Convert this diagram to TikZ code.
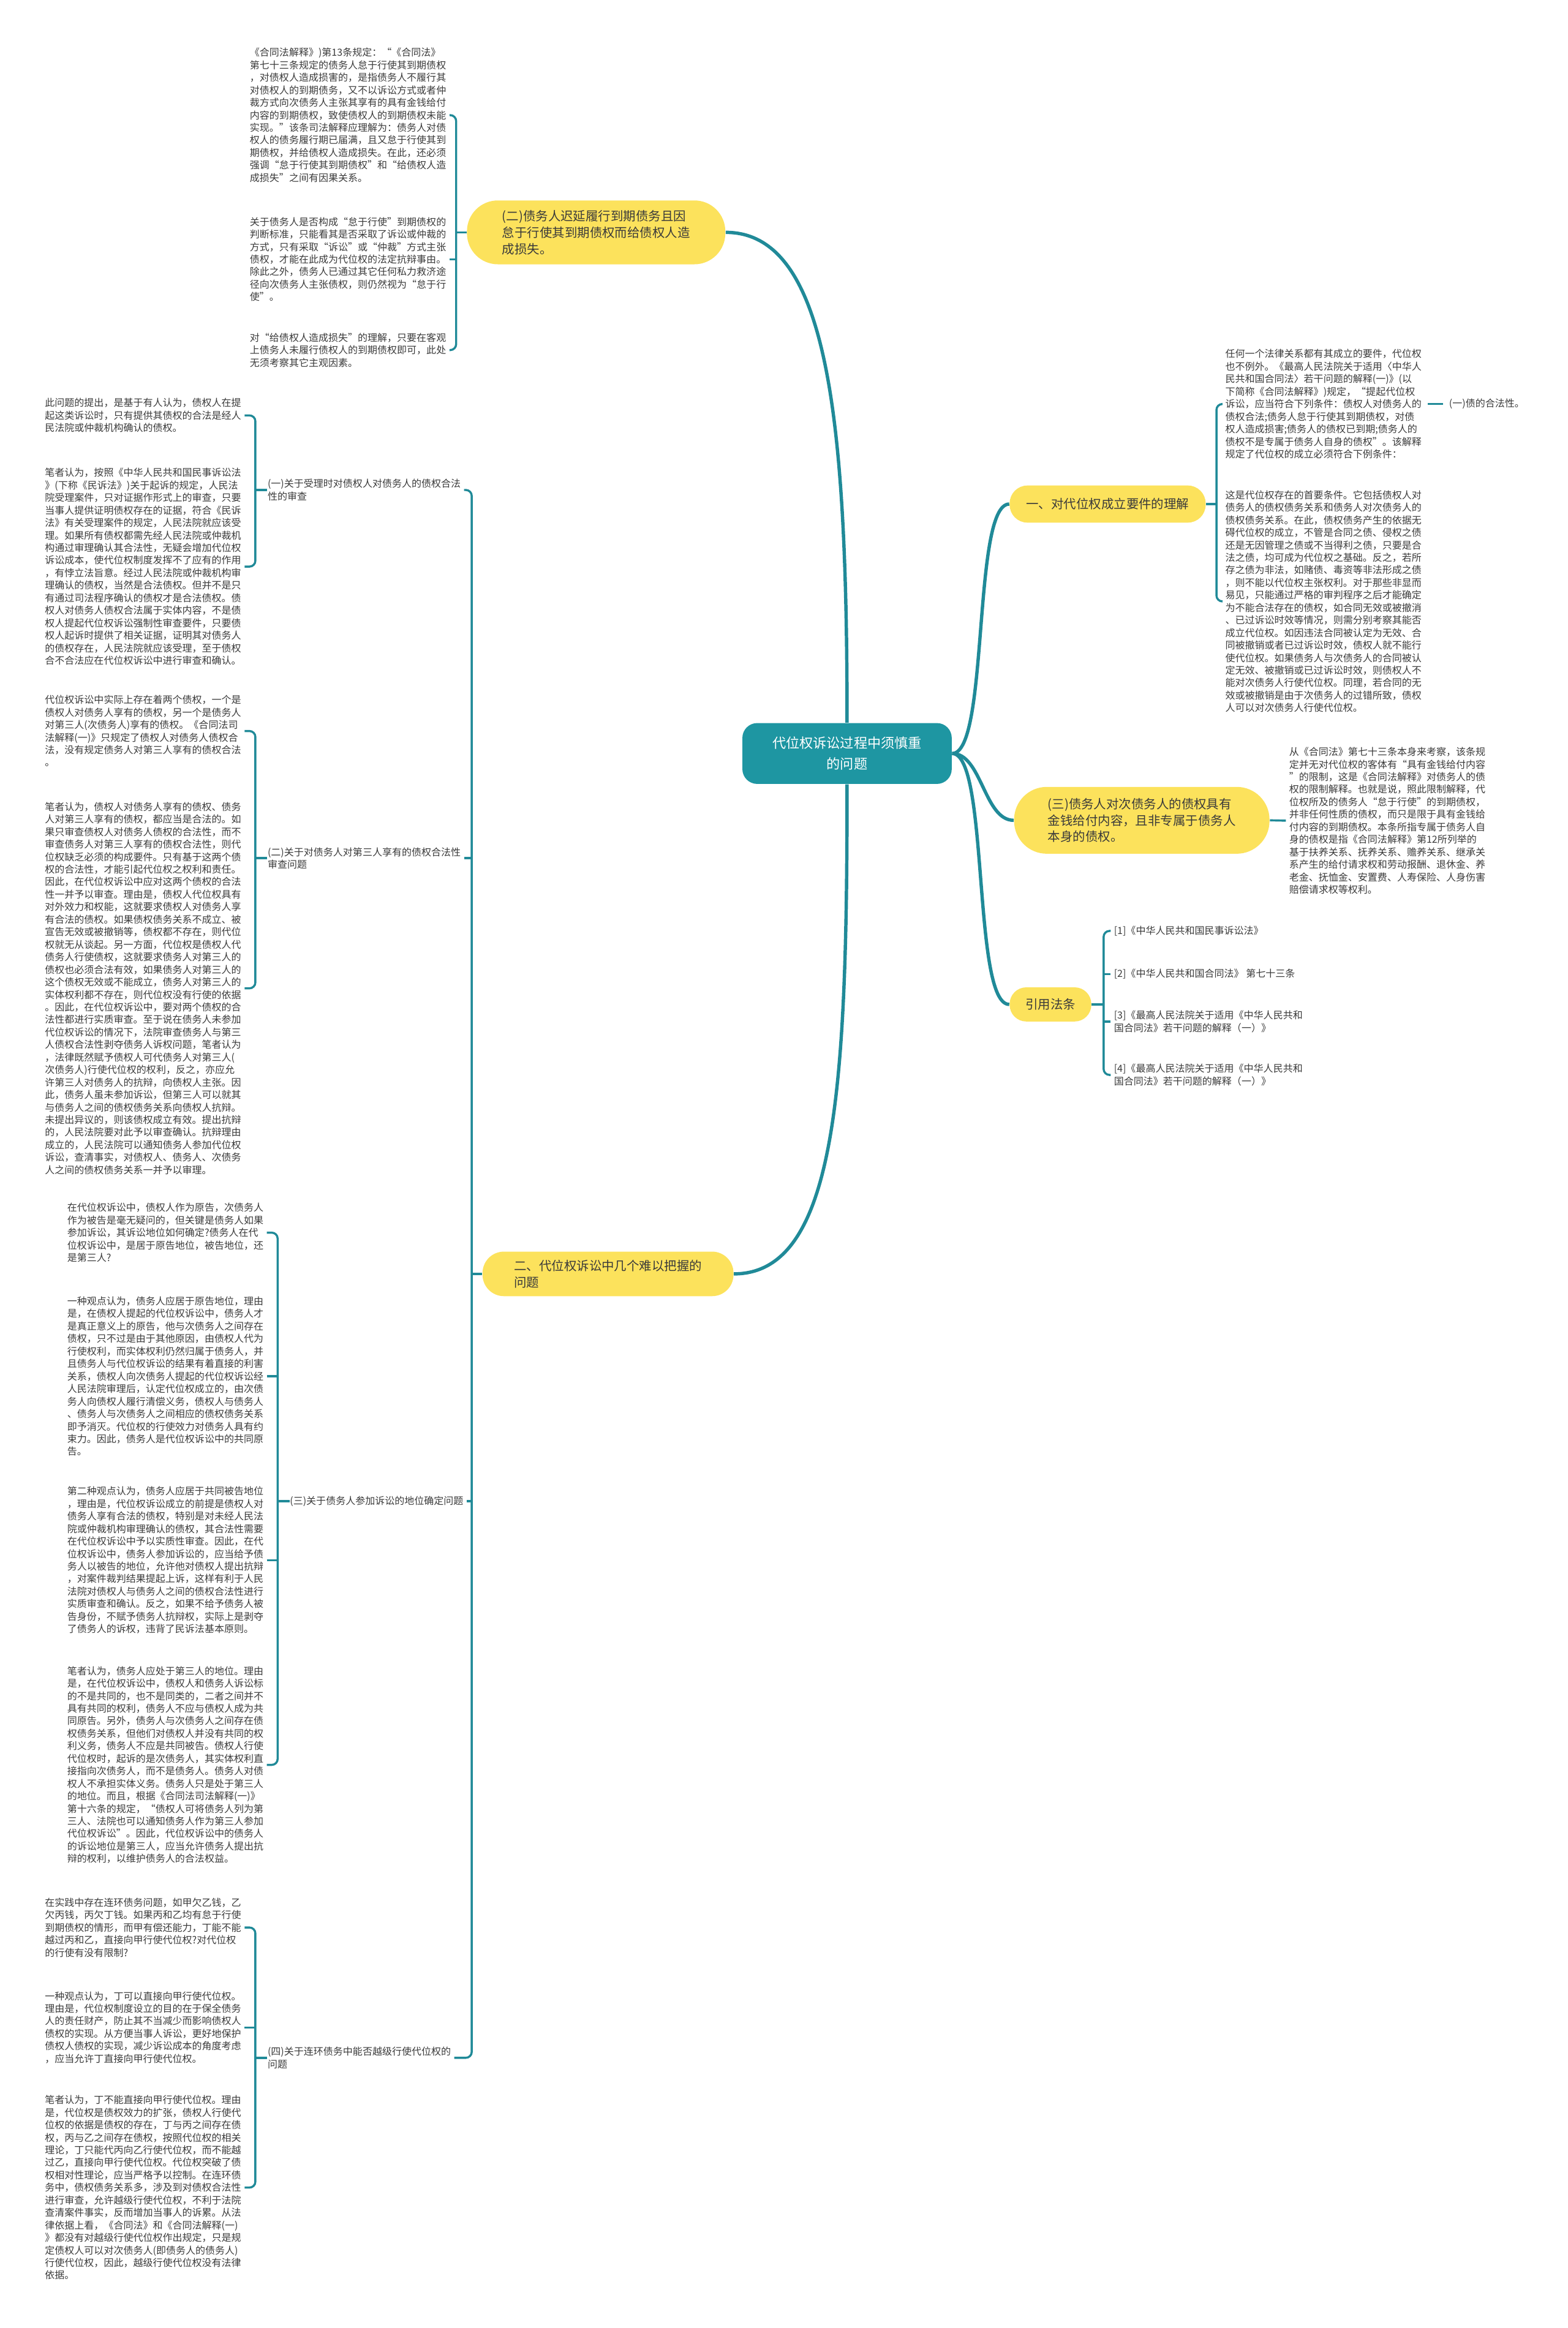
\documentclass[tikz,border=0pt]{standalone}
\usepackage{fontspec}
\setmainfont{Noto Sans CJK SC}
\usepackage{xcolor}
\usepackage{tikz}
\usetikzlibrary{positioning,calc}
\definecolor{mapline}{RGB}{32,138,152}
\definecolor{rootfill}{RGB}{30,150,162}
\definecolor{topicfill}{RGB}{252,226,92}
\definecolor{ink}{RGB}{58,58,58}

\begin{document}
\begin{tikzpicture}[
  x=0.25mm, y=-0.25mm,
  link/.style={draw=mapline, line width=1.6pt},
  bline/.style={draw=mapline, line width=1pt, rounded corners=1mm},
  root/.style={fill=rootfill, text=white, rounded corners=2.5mm, align=center,
               inner sep=0pt, font=\fontsize{6.5}{10}\selectfont},
  topic/.style={fill=topicfill, text=ink, align=left, inner sep=0pt,
                font=\fontsize{6}{7.9}\selectfont},
  leaf/.style={text=ink, align=left, inner sep=0pt, anchor=north west,
               font=\fontsize{4.7}{6}\selectfont},
  lbl/.style={text=ink, align=left, inner sep=0pt, anchor=west,
              font=\fontsize{4.7}{6}\selectfont}
]
  \useasboundingbox (0,0) rectangle (1056,1568);
  \def\xl{30} \def\xq{180} \def\xt{168} \def\xr{825}
  % root
  \node[root, minimum width=35.25mm, minimum height=10.25mm] (root) at (570.5,507.5)
    {代位权诉讼过程中须慎重\\的问题};
  % topics
  \node[topic, minimum width=43.5mm, minimum height=10.75mm, rounded corners=5.2mm] (p2) at (401.5,156.5)
    {(二)债务人迟延履行到期债务且因\\怠于行使其到期债权而给债权人造\\成损失。};
  \node[topic, minimum width=33mm, minimum height=6.25mm, rounded corners=3mm] (n1) at (746,339.5)
    {一、对代位权成立要件的理解};
  \node[topic, minimum width=43mm, minimum height=11.25mm, rounded corners=5.5mm] (n3) at (769,552.5)
    {(三)债务人对次债务人的债权具有\\金钱给付内容，且非专属于债务人\\本身的债权。};
  \node[topic, minimum width=13.75mm, minimum height=5.75mm, rounded corners=2.8mm] (nref) at (707.5,676.5)
    {引用法条};
  \node[topic, minimum width=42.25mm, minimum height=7.5mm, rounded corners=3.6mm] (n2) at (409.5,858)
    {二、代位权诉讼中几个难以把握的\\问题};

  % (二) top texts
  \node[leaf] (t1) at (\xt,32) {《合同法解释》)第13条规定：“《合同法》\\
第七十三条规定的债务人怠于行使其到期债权\\
，对债权人造成损害的，是指债务人不履行其\\
对债权人的到期债务，又不以诉讼方式或者仲\\
裁方式向次债务人主张其享有的具有金钱给付\\
内容的到期债权，致使债权人的到期债权未能\\
实现。”该条司法解释应理解为：债务人对债\\
权人的债务履行期已届满，且又怠于行使其到\\
期债权，并给债权人造成损失。在此，还必须\\
强调“怠于行使其到期债权”和“给债权人造\\
成损失”之间有因果关系。};
  \node[leaf] (t2) at (\xt,146) {关于债务人是否构成“怠于行使”到期债权的\\
判断标准，只能看其是否采取了诉讼或仲裁的\\
方式，只有采取“诉讼”或“仲裁”方式主张\\
债权，才能在此成为代位权的法定抗辩事由。\\
除此之外，债务人已通过其它任何私力救济途\\
径向次债务人主张债权，则仍然视为“怠于行\\
使”。};
  \node[leaf] (t3) at (\xt,224) {对“给债权人造成损失”的理解，只要在客观\\
上债务人未履行债权人的到期债权即可，此处\\
无须考察其它主观因素。};

  % 二、 labels
  \node[lbl] (q1) at (\xq,330) {(一)关于受理时对债权人对债务人的债权合法\\性的审查};
  \node[lbl] (q2) at (\xq,578) {(二)关于对债务人对第三人享有的债权合法性\\审查问题};
  \node[lbl] (q3) at (195,1011) {(三)关于债务人参加诉讼的地位确定问题};
  \node[lbl] (q4) at (\xq,1386) {(四)关于连环债务中能否越级行使代位权的\\问题};

  % (一)
  \node[leaf] (l1a) at (\xl,268) {此问题的提出，是基于有人认为，债权人在提\\
起这类诉讼时，只有提供其债权的合法是经人\\
民法院或仲裁机构确认的债权。};
  \node[leaf] (l1b) at (\xl,315) {笔者认为，按照《中华人民共和国民事诉讼法\\
》(下称《民诉法》)关于起诉的规定，人民法\\
院受理案件，只对证据作形式上的审查，只要\\
当事人提供证明债权存在的证据，符合《民诉\\
法》有关受理案件的规定，人民法院就应该受\\
理。如果所有债权都需先经人民法院或仲裁机\\
构通过审理确认其合法性，无疑会增加代位权\\
诉讼成本，使代位权制度发挥不了应有的作用\\
，有悖立法旨意。经过人民法院或仲裁机构审\\
理确认的债权，当然是合法债权。但并不是只\\
有通过司法程序确认的债权才是合法债权。债\\
权人对债务人债权合法属于实体内容，不是债\\
权人提起代位权诉讼强制性审查要件，只要债\\
权人起诉时提供了相关证据，证明其对债务人\\
的债权存在，人民法院就应该受理，至于债权\\
合不合法应在代位权诉讼中进行审查和确认。};

  % (二)
  \node[leaf] (l2a) at (\xl,468) {代位权诉讼中实际上存在着两个债权，一个是\\
债权人对债务人享有的债权，另一个是债务人\\
对第三人(次债务人)享有的债权。《合同法司\\
法解释(一)》只规定了债权人对债务人债权合\\
法，没有规定债务人对第三人享有的债权合法\\
。};
  \node[leaf] (l2b) at (\xl,540) {笔者认为，债权人对债务人享有的债权、债务\\
人对第三人享有的债权，都应当是合法的。如\\
果只审查债权人对债务人债权的合法性，而不\\
审查债务人对第三人享有的债权合法性，则代\\
位权缺乏必须的构成要件。只有基于这两个债\\
权的合法性，才能引起代位权之权利和责任。\\
因此，在代位权诉讼中应对这两个债权的合法\\
性一并予以审查。理由是，债权人代位权具有\\
对外效力和权能，这就要求债权人对债务人享\\
有合法的债权。如果债权债务关系不成立、被\\
宣告无效或被撤销等，债权都不存在，则代位\\
权就无从谈起。另一方面，代位权是债权人代\\
债务人行使债权，这就要求债务人对第三人的\\
债权也必须合法有效，如果债务人对第三人的\\
这个债权无效或不能成立，债务人对第三人的\\
实体权利都不存在，则代位权没有行使的依据\\
。因此，在代位权诉讼中，要对两个债权的合\\
法性都进行实质审查。至于说在债务人未参加\\
代位权诉讼的情况下，法院审查债务人与第三\\
人债权合法性剥夺债务人诉权问题，笔者认为\\
，法律既然赋予债权人可代债务人对第三人(\\
次债务人)行使代位权的权利，反之，亦应允\\
许第三人对债务人的抗辩，向债权人主张。因\\
此，债务人虽未参加诉讼，但第三人可以就其\\
与债务人之间的债权债务关系向债权人抗辩。\\
未提出异议的，则该债权成立有效。提出抗辩\\
的，人民法院要对此予以审查确认。抗辩理由\\
成立的，人民法院可以通知债务人参加代位权\\
诉讼，查清事实，对债权人、债务人、次债务\\
人之间的债权债务关系一并予以审理。};

  % (三)
  \node[leaf] (l3a) at (45,810) {在代位权诉讼中，债权人作为原告，次债务人\\
作为被告是毫无疑问的，但关键是债务人如果\\
参加诉讼，其诉讼地位如何确定?债务人在代\\
位权诉讼中，是居于原告地位，被告地位，还\\
是第三人?};
  \node[leaf] (l3b) at (45,873) {一种观点认为，债务人应居于原告地位，理由\\
是，在债权人提起的代位权诉讼中，债务人才\\
是真正意义上的原告，他与次债务人之间存在\\
债权，只不过是由于其他原因，由债权人代为\\
行使权利，而实体权利仍然归属于债务人，并\\
且债务人与代位权诉讼的结果有着直接的利害\\
关系，债权人向次债务人提起的代位权诉讼经\\
人民法院审理后，认定代位权成立的，由次债\\
务人向债权人履行清偿义务，债权人与债务人\\
、债务人与次债务人之间相应的债权债务关系\\
即予消灭。代位权的行使效力对债务人具有约\\
束力。因此，债务人是代位权诉讼中的共同原\\
告。};
  \node[leaf] (l3c) at (45,1001) {第二种观点认为，债务人应居于共同被告地位\\
，理由是，代位权诉讼成立的前提是债权人对\\
债务人享有合法的债权，特别是对未经人民法\\
院或仲裁机构审理确认的债权，其合法性需要\\
在代位权诉讼中予以实质性审查。因此，在代\\
位权诉讼中，债务人参加诉讼的，应当给予债\\
务人以被告的地位，允许他对债权人提出抗辩\\
，对案件裁判结果提起上诉，这样有利于人民\\
法院对债权人与债务人之间的债权合法性进行\\
实质审查和确认。反之，如果不给予债务人被\\
告身份，不赋予债务人抗辩权，实际上是剥夺\\
了债务人的诉权，违背了民诉法基本原则。};
  \node[leaf] (l3d) at (45,1122) {笔者认为，债务人应处于第三人的地位。理由\\
是，在代位权诉讼中，债权人和债务人诉讼标\\
的不是共同的，也不是同类的，二者之间并不\\
具有共同的权利，债务人不应与债权人成为共\\
同原告。另外，债务人与次债务人之间存在债\\
权债务关系，但他们对债权人并没有共同的权\\
利义务，债务人不应是共同被告。债权人行使\\
代位权时，起诉的是次债务人，其实体权利直\\
接指向次债务人，而不是债务人。债务人对债\\
权人不承担实体义务。债务人只是处于第三人\\
的地位。而且，根据《合同法司法解释(一)》\\
第十六条的规定，“债权人可将债务人列为第\\
三人、法院也可以通知债务人作为第三人参加\\
代位权诉讼”。因此，代位权诉讼中的债务人\\
的诉讼地位是第三人，应当允许债务人提出抗\\
辩的权利，以维护债务人的合法权益。};

  % (四)
  \node[leaf] (l4a) at (\xl,1278) {在实践中存在连环债务问题，如甲欠乙钱，乙\\
欠丙钱，丙欠丁钱。如果丙和乙均有怠于行使\\
到期债权的情形，而甲有偿还能力，丁能不能\\
越过丙和乙，直接向甲行使代位权?对代位权\\
的行使有没有限制?};
  \node[leaf] (l4b) at (\xl,1341) {一种观点认为，丁可以直接向甲行使代位权。\\
理由是，代位权制度设立的目的在于保全债务\\
人的责任财产，防止其不当减少而影响债权人\\
债权的实现。从方便当事人诉讼，更好地保护\\
债权人债权的实现，减少诉讼成本的角度考虑\\
，应当允许丁直接向甲行使代位权。};
  \node[leaf] (l4c) at (\xl,1411) {笔者认为，丁不能直接向甲行使代位权。理由\\
是，代位权是债权效力的扩张，债权人行使代\\
位权的依据是债权的存在，丁与丙之间存在债\\
权，丙与乙之间存在债权，按照代位权的相关\\
理论，丁只能代丙向乙行使代位权，而不能越\\
过乙，直接向甲行使代位权。代位权突破了债\\
权相对性理论，应当严格予以控制。在连环债\\
务中，债权债务关系多，涉及到对债权合法性\\
进行审查，允许越级行使代位权，不利于法院\\
查清案件事实，反而增加当事人的诉累。从法\\
律依据上看，《合同法》和《合同法解释(一)\\
》都没有对越级行使代位权作出规定，只是规\\
定债权人可以对次债务人(即债务人的债务人)\\
行使代位权，因此，越级行使代位权没有法律\\
依据。};

  % 一、 texts
  \node[leaf] (ra) at (\xr,235) {任何一个法律关系都有其成立的要件，代位权\\
也不例外。《最高人民法院关于适用〈中华人\\
民共和国合同法〉若干问题的解释(一)》(以\\
下简称《合同法解释》)规定，“提起代位权\\
诉讼，应当符合下列条件：债权人对债务人的\\
债权合法;债务人怠于行使其到期债权，对债\\
权人造成损害;债务人的债权已到期;债务人的\\
债权不是专属于债务人自身的债权”。该解释\\
规定了代位权的成立必须符合下例条件：};
  \node[lbl, right=4.5mm of ra] (leg) {(一)债的合法性。};
  \node[leaf] (rb) at (\xr,330) {这是代位权存在的首要条件。它包括债权人对\\
债务人的债权债务关系和债务人对次债务人的\\
债权债务关系。在此，债权债务产生的依据无\\
碍代位权的成立，不管是合同之债、侵权之债\\
还是无因管理之债或不当得利之债，只要是合\\
法之债，均可成为代位权之基础。反之，若所\\
存之债为非法，如赌债、毒资等非法形成之债\\
，则不能以代位权主张权利。对于那些非显而\\
易见，只能通过严格的审判程序之后才能确定\\
为不能合法存在的债权，如合同无效或被撤消\\
、已过诉讼时效等情况，则需分别考察其能否\\
成立代位权。如因违法合同被认定为无效、合\\
同被撤销或者已过诉讼时效，债权人就不能行\\
使代位权。如果债务人与次债务人的合同被认\\
定无效、被撤销或已过诉讼时效，则债权人不\\
能对次债务人行使代位权。同理，若合同的无\\
效或被撤销是由于次债务人的过错所致，债权\\
人可以对次债务人行使代位权。};

  % (三) right text
  \node[leaf] (rc) at (868,503) {从《合同法》第七十三条本身来考察，该条规\\
定并无对代位权的客体有“具有金钱给付内容\\
”的限制，这是《合同法解释》对债务人的债\\
权的限制解释。也就是说，照此限制解释，代\\
位权所及的债务人“怠于行使”的到期债权，\\
并非任何性质的债权，而只是限于具有金钱给\\
付内容的到期债权。本条所指专属于债务人自\\
身的债权是指《合同法解释》第12所列举的\\
基于扶养关系、抚养关系、赡养关系、继承关\\
系产生的给付请求权和劳动报酬、退休金、养\\
老金、抚恤金、安置费、人寿保险、人身伤害\\
赔偿请求权等权利。};

  % references
  \node[lbl] (ref1) at (750,627) {[1]《中华人民共和国民事诉讼法》};
  \node[lbl] (ref2) at (750,656) {[2]《中华人民共和国合同法》 第七十三条};
  \node[lbl] (ref3) at (750,688) {[3]《最高人民法院关于适用《中华人民共和\\国合同法》若干问题的解释（一）》};
  \node[lbl] (ref4) at (750,724) {[4]《最高人民法院关于适用《中华人民共和\\国合同法》若干问题的解释（一）》};

  % root links
  \draw[link] (root.east) .. controls +(25,0) and +(-25,0) .. (n1.west);
  \draw[link] (root.east) .. controls +(20,0) and +(-20,0) .. (n3.west);
  \draw[link] (root.east) .. controls +(25,0) and +(-25,0) .. (nref.west);
  \draw[link] (root.north) .. controls +(0,-200) and +(70,0) .. (p2.east);
  \draw[link] (root.south) .. controls +(0,200) and +(70,0) .. (n2.east);

  % (二) top bracket
  \draw[bline] (p2.west) -- ++(-7,0) coordinate (jp2);
  \draw[bline] ([xshift=0.5mm]t1.east) -| (jp2) |- ([xshift=0.5mm]t3.east);
  \draw[bline] ([xshift=0.5mm]t2.east) -- (jp2 |- t2.east);
  % 一、
  \draw[bline] (n1.east) -- ++(7,0) coordinate (jn1);
  \draw[bline] ([xshift=-0.5mm]ra.west) -| (jn1) |- ([xshift=-0.5mm]rb.west);
  \draw[bline] ([xshift=1mm]ra.east) -- ([xshift=-1mm]leg.west);
  % (三)
  \draw[bline] (n3.east) -- ([xshift=-0.5mm]rc.west);
  % 引用法条
  \draw[bline] (nref.east) -- ++(8,0) coordinate (jref);
  \draw[bline] ([xshift=-0.5mm]ref1.west) -| (jref) |- ([xshift=-0.5mm]ref4.west);
  \foreach \r in {ref2,ref3} \draw[bline] ([xshift=-0.5mm]\r.west) -- (jref |- \r.west);
  % 二、
  \draw[bline] (n2.west) -- ++(-7,0) coordinate (jn2);
  \draw[bline] ([xshift=0.5mm]q1.east) -| (jn2) |- ([xshift=0.5mm]q4.east);
  \foreach \q in {q2,q3} \draw[bline] ([xshift=0.5mm]\q.east) -- (jn2 |- \q.east);
  % (一) .. (四)
  \draw[bline] (q1.west) -- ++(-8,0) coordinate (jq1);
  \draw[bline] ([xshift=0.5mm]l1a.east) -| (jq1) |- ([xshift=0.5mm]l1b.east);
  \draw[bline] (q2.west) -- ++(-8,0) coordinate (jq2);
  \draw[bline] ([xshift=0.5mm]l2a.east) -| (jq2) |- ([xshift=0.5mm]l2b.east);
  \draw[bline] (q3.west) -- ++(-8,0) coordinate (jq3);
  \draw[bline] ([xshift=0.5mm]l3a.east) -| (jq3) |- ([xshift=0.5mm]l3d.east);
  \foreach \l in {l3b,l3c} \draw[bline] ([xshift=0.5mm]\l.east) -- (jq3 |- \l.east);
  \draw[bline] (q4.west) -- ++(-8,0) coordinate (jq4);
  \draw[bline] ([xshift=0.5mm]l4a.east) -| (jq4) |- ([xshift=0.5mm]l4c.east);
  \draw[bline] ([xshift=0.5mm]l4b.east) -- (jq4 |- l4b.east);
\end{tikzpicture}
\end{document}
